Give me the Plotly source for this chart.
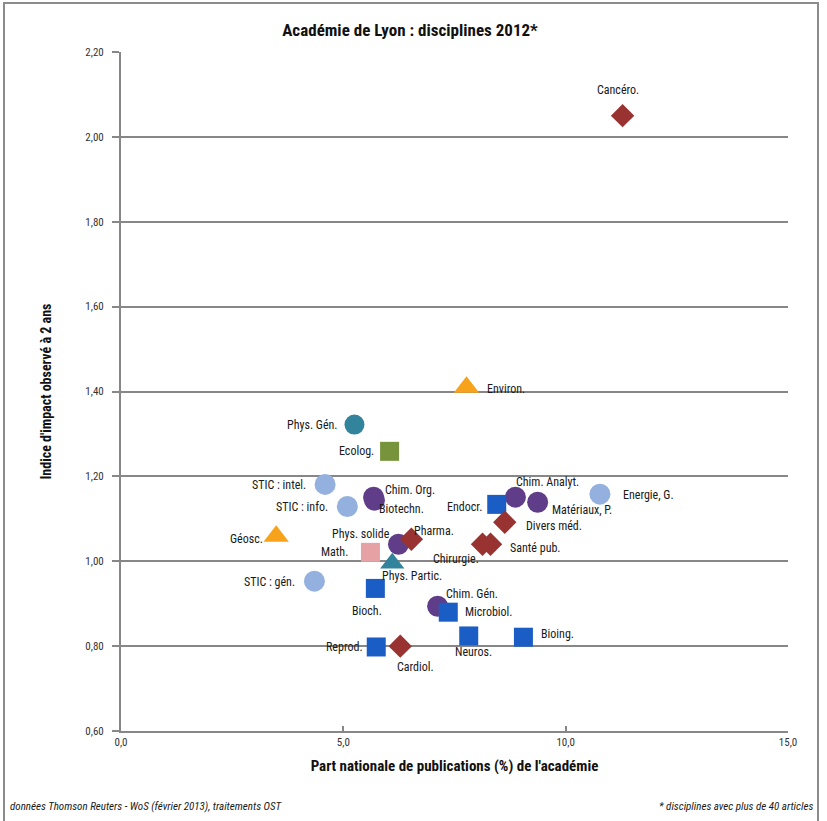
import plotly.graph_objects as go

# ---------------- data ----------------
disciplines = [
    "Cancéro.", "Environ.", "Phys. Gén.", "Ecolog.", "STIC : intel.", "STIC : info.",
    "Biotechn.", "Chim. Org.", "Endocr.", "Chim. Analyt.", "Matériaux, P.", "Energie, G.",
    "Divers méd.", "Chirurgie.", "Santé pub.", "Phys. solide", "Pharma.", "Math.",
    "Phys. Partic.", "Bioch.", "STIC : gén.", "Géosc.", "Chim. Gén.", "Microbiol.",
    "Neuros.", "Bioing.", "Reprod.", "Cardiol.",
]
part_nationale = [
    11.28, 7.77, 5.25, 6.04, 4.59, 5.09,
    5.70, 5.68, 8.45, 8.87, 9.37, 10.77,
    8.63, 8.13, 8.31, 6.24, 6.53, 5.61,
    6.10, 5.72, 4.35, 3.49, 7.12, 7.36,
    7.82, 9.05, 5.74, 6.28,
]
indice_impact = [
    2.05, 1.41, 1.322, 1.259, 1.181, 1.129,
    1.144, 1.151, 1.134, 1.151, 1.139, 1.158,
    1.092, 1.040, 1.040, 1.040, 1.052, 1.021,
    0.995, 0.936, 0.953, 1.059, 0.894, 0.880,
    0.824, 0.821, 0.798, 0.800,
]
groupe = [
    "med", "univers", "phys", "bioappl", "spi", "spi",
    "chimie", "chimie", "biofond", "chimie", "chimie", "spi",
    "med", "med", "med", "chimie", "med", "math",
    "physpart", "biofond", "spi", "univers", "chimie", "biofond",
    "biofond", "biofond", "biofond", "med",
]
x_ticks = [0, 5, 10, 15]
y_ticks = [0.6, 0.8, 1.0, 1.2, 1.4, 1.6, 1.8, 2.0, 2.2]

# ---------------- styles ----------------
group_style = {
    "med":      dict(symbol="diamond",      color="#983331", size=18),
    "biofond":  dict(symbol="square",       color="#1A5DC4", size=19),
    "chimie":   dict(symbol="circle",       color="#603D88", size=21),
    "spi":      dict(symbol="circle",       color="#93B0DF", size=21),
    "phys":     dict(symbol="circle",       color="#31849B", size=20),
    "physpart": dict(symbol="triangle-up",  color="#31849B", size=21),
    "univers":  dict(symbol="triangle-up",  color="#F7A21B", size=22),
    "bioappl":  dict(symbol="square",       color="#77933C", size=19),
    "math":     dict(symbol="square",       color="#E5A1A3", size=19),
}
group_order = ["bioappl", "univers", "phys", "spi", "chimie", "biofond", "med", "math", "physpart"]

# label placement: (xanchor, xshift px, yshift px)
label_pos = {
    "Cancéro.": ("center", -5, 26), "Environ.": ("left", 18, -2),
    "Phys. Gén.": ("right", -14, 0), "Ecolog.": ("right", -14, 0),
    "STIC : intel.": ("right", -17, -1), "STIC : info.": ("right", -17, 0),
    "Biotechn.": ("left", 3, -9), "Chim. Org.": ("left", 9, 7),
    "Endocr.": ("right", -13, -3), "Chim. Analyt.": ("center", 32, 15),
    "Matériaux, P.": ("left", 12, -8), "Energie, G.": ("left", 21, -1),
    "Divers méd.": ("left", 19, -4), "Chirurgie.": ("center", -27, -15),
    "Santé pub.": ("left", 17, -4), "Phys. solide": ("right", -6, 10),
    "Pharma.": ("left", 1, 8), "Math.": ("right", -20, 0),
    "Phys. Partic.": ("left", -12, -13), "Bioch.": ("center", -8, -23),
    "STIC : gén.": ("right", -17, -1), "Géosc.": ("right", -11, -3),
    "Chim. Gén.": ("left", 6, 12), "Microbiol.": ("left", 15, 0),
    "Neuros.": ("center", 5, -16), "Bioing.": ("left", 16, 3),
    "Reprod.": ("right", -11, 0), "Cardiol.": ("center", 15, -21),
}

NARROW = "Liberation Sans Narrow, Arial Narrow, Roboto Condensed, DejaVu Sans Condensed, sans-serif"
W, H = 827, 821
L, R, T, B = 121, 39, 52, 90

fig = go.Figure()
for g in group_order:
    idx = [i for i, gg in enumerate(groupe) if gg == g]
    st = group_style[g]
    fig.add_trace(go.Scatter(
        x=[part_nationale[i] for i in idx],
        y=[indice_impact[i] for i in idx],
        text=[disciplines[i] for i in idx],
        mode="markers",
        marker=dict(symbol=st["symbol"], color=st["color"], size=st["size"], line=dict(width=0)),
        hovertemplate="%{text}<br>%{x:.2f} ; %{y:.2f}<extra></extra>",
        showlegend=False,
    ))

for name, xv, yv in zip(disciplines, part_nationale, indice_impact):
    anc, dx, dy = label_pos[name]
    fig.add_annotation(x=xv, y=yv, text=name, showarrow=False,
                       xanchor=anc, yanchor="middle", xshift=dx, yshift=dy,
                       font=dict(family=NARROW, size=12, color="#1a1a1a"))

def px_x(p):
    return (p - L) / (W - L - R)

def px_y(p):
    return (H - B - p) / (H - T - B)

# footer notes
fig.add_annotation(xref="paper", yref="paper", x=px_x(8), y=px_y(806),
                   text="<i>données Thomson Reuters - WoS (février 2013), traitements OST</i>",
                   showarrow=False, xanchor="left", yanchor="middle",
                   font=dict(family=NARROW, size=11, color="#1a1a1a"))
fig.add_annotation(xref="paper", yref="paper", x=px_x(815), y=px_y(806),
                   text="<i>* disciplines avec plus de 40 articles</i>",
                   showarrow=False, xanchor="right", yanchor="middle",
                   font=dict(family=NARROW, size=11, color="#1a1a1a"))

# outer frame
fig.add_shape(type="rect", xref="paper", yref="paper",
              x0=px_x(4), x1=px_x(818), y0=px_y(840), y1=px_y(3),
              line=dict(color="#8c8c8c", width=2), fillcolor="rgba(0,0,0,0)", layer="below")

fig.update_layout(
    width=W, height=H,
    margin=dict(l=L, r=R, t=T, b=B),
    paper_bgcolor="white", plot_bgcolor="white",
    separators=", ",
    title=dict(text="<b>Académie de Lyon : disciplines 2012*</b>",
               x=410 / W, xref="container", xanchor="center",
               y=1 - 30 / H, yref="container", yanchor="middle",
               font=dict(family=NARROW, size=17, color="#111")),
    xaxis=dict(range=[0, 15], tickvals=x_ticks, tickformat=".1f",
               showgrid=False, zeroline=False,
               showline=True, linecolor="#878787", linewidth=2,
               ticks="inside", ticklen=5, tickcolor="#878787", tickwidth=2,
               tickfont=dict(family=NARROW, size=11, color="#333"),
               title=dict(text="<b>Part nationale de publications (%) de l'académie</b>",
                          standoff=12, font=dict(family=NARROW, size=15, color="#111"))),
    yaxis=dict(range=[0.6, 2.2], tickvals=y_ticks, tickformat=".2f",
               showgrid=True, gridcolor="#878787", gridwidth=2,
               zeroline=False,
               showline=True, linecolor="#878787", linewidth=2,
               ticks="outside", ticklen=7, tickcolor="#878787", tickwidth=2,
               ticklabelstandoff=6,
               tickfont=dict(family=NARROW, size=11, color="#333"),
               title=dict(text="<b>Indice d'impact observé à 2 ans</b>",
                          standoff=30, font=dict(family=NARROW, size=14, color="#111"))),
)

fig.write_html("out.html", config={"displayModeBar": False},
               post_script="document.body.style.margin='0';")
